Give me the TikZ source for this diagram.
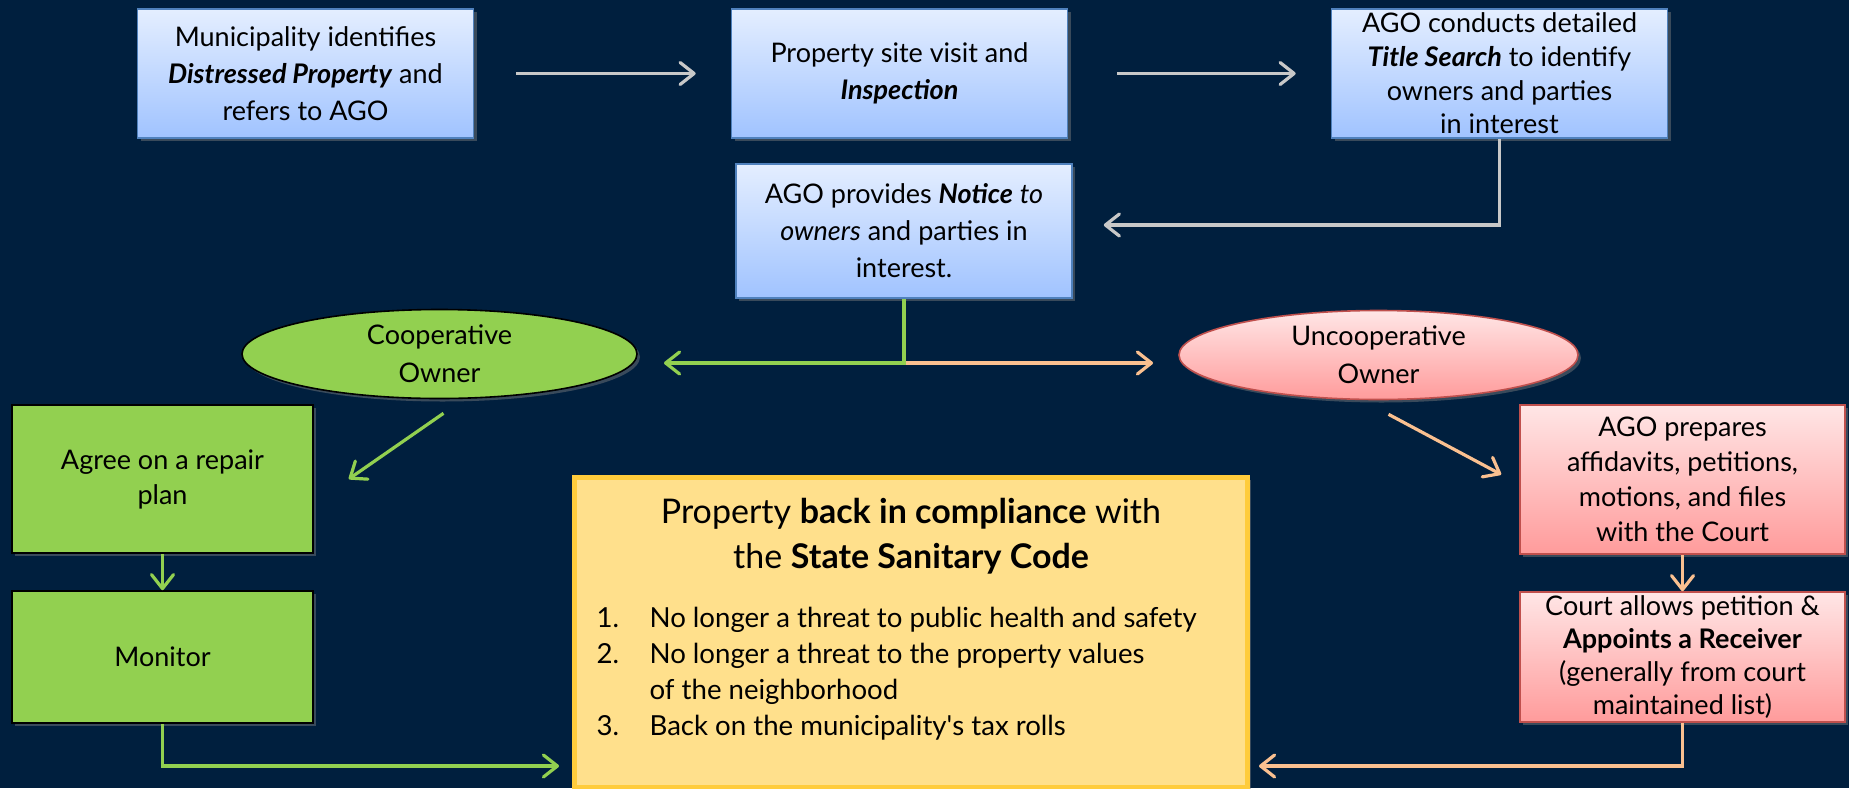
\documentclass[tikz,border=0pt]{standalone}
\usepackage{fontspec}
\setmainfont{Lato}
\usetikzlibrary{arrows.meta,shapes.geometric,shadows}
\definecolor{navybg}{RGB}{0,31,62}
\definecolor{arrowgray}{RGB}{200,200,200}
\definecolor{ownergreen}{RGB}{146,208,80}
\definecolor{ownerorange}{RGB}{250,192,144}
\definecolor{bluetop}{RGB}{228,238,255}
\definecolor{bluebot}{RGB}{160,195,255}
\definecolor{blueedge}{RGB}{79,129,189}
\definecolor{pinktop}{RGB}{255,230,230}
\definecolor{pinkbot}{RGB}{255,155,155}
\definecolor{pinkedge}{RGB}{192,80,77}
\definecolor{resultfill}{RGB}{255,224,140}
\definecolor{resultedge}{RGB}{255,204,60}

\begin{document}
\begin{tikzpicture}[x=0.5pt,y=-0.5pt,line width=1.6pt]
\tikzset{boxshadow/.style={drop shadow={opacity=0.45,shadow xshift=1.5pt,shadow yshift=-1.5pt}},
bluebox/.style={draw=blueedge,line width=0.8pt,top color=bluetop,bottom color=bluebot,
minimum width=168pt,minimum height=64.5pt,inner sep=0pt,align=center,
font=\fontsize{13.5}{18.5}\selectfont,boxshadow},
greenbox/.style={draw=black,line width=0.8pt,fill=ownergreen,minimum width=150.5pt,
inner sep=0pt,align=center,font=\fontsize{13.5}{17.5}\selectfont,boxshadow},
pinkbox/.style={draw=pinkedge,line width=0.8pt,top color=pinktop,bottom color=pinkbot,
minimum width=162.5pt,inner sep=0pt,align=center,font=\fontsize{13.5}{17.5}\selectfont,boxshadow},
owner/.style={ellipse,line width=0.8pt,minimum height=44.5pt,inner sep=0pt,align=center,
font=\fontsize{13.5}{19}\selectfont,boxshadow},
flow/.style={-{Straight Barb[length=7pt,width=11pt,round]}},
grayline/.style={draw=arrowgray,flow},
greenline/.style={draw=ownergreen,flow},
orangeline/.style={draw=ownerorange,flow},
}
\useasboundingbox (0,0) rectangle (1849,788);
\fill[navybg] (0,0) rectangle (1849,788);

\node[bluebox] (muni) at (305.5,73.5) {Municipality identifies\\
\textbf{\textit{Distressed Property}} and\\ refers to AGO};
\node[bluebox] (visit) at (899.5,73.5) {Property site visit and\\ \textbf{\textit{Inspection}}};
\node[bluebox,font=\fontsize{13.5}{16.8}\selectfont] (search) at (1499.5,73.5) {AGO conducts detailed\\
\textbf{\textit{Title Search}} to identify\\ owners and parties\\ in interest};
\node[bluebox,minimum height=67pt] (notice) at (904,231) {AGO provides \textbf{\textit{Notice}} \textit{to}\\
\textit{owners} and parties in\\ interest.};

\node[owner,draw=black,fill=ownergreen,minimum width=197.5pt] (coop) at (439.5,354) {Cooperative\\ Owner};
\node[owner,draw=pinkedge,top color=pinktop,bottom color=pinkbot,minimum width=199.5pt] (uncoop) at (1378.5,355) {Uncooperative\\ Owner};

\node[greenbox,minimum height=74pt] (agree) at (162.5,479) {Agree on a repair\\ plan};
\node[greenbox,minimum height=66pt] (monitor) at (162.5,657) {Monitor};
\node[pinkbox,minimum height=74.5pt] (prep) at (1682.5,479.5) {AGO prepares\\
affidavits, petitions,\\ motions, and files\\ with the Court};
\node[pinkbox,minimum height=65pt,font=\fontsize{13.5}{16.5}\selectfont] (court) at (1682.5,657) {Court allows petition \&\\
\textbf{Appoints a Receiver}\\ (generally from court\\ maintained list)};

\node[draw=resultedge,line width=2.5pt,fill=resultfill,minimum width=336.5pt,minimum height=155pt,boxshadow] (result) at (911,632) {};
\node[font=\fontsize{17}{22.5}\selectfont,align=center] (rtitle) at (911,536)
{Property \textbf{back in compliance} with\\ the \textbf{State Sanitary Code}};
\node[anchor=west,inner sep=0pt,font=\fontsize{13.8}{18}\selectfont] (rlist) at (595,674)
{\begin{tabular}{@{}p{26.5pt}@{}l@{}}
1. & No longer a threat to public health and safety\\
2. & No longer a threat to the property values\\
 & of the neighborhood\\
3. & Back on the municipality\textquotesingle s tax rolls
\end{tabular}};

\coordinate (split) at (904,363);
\coordinate (coopin) at (664,363);
\coordinate (uncoopin) at (1153,363);
\coordinate (resin) at (559,766);
\coordinate (resout) at (1259,766);

\draw[grayline] ([xshift=21pt]muni.east) -- ([xshift=-17.5pt]visit.west);
\draw[grayline] ([xshift=24.5pt]visit.east) -- ([xshift=-17.5pt]search.west);
\draw[grayline] (search.south) |- ([xshift=15.5pt,yshift=3pt]notice.east);
\draw[orangeline] (split) -- (uncoopin);
\draw[greenline] (notice.south) -- (split) -- (coopin);
\draw[greenline] ([xshift=2pt,yshift=-7pt]coop.south) -- ([xshift=17.5pt]agree.east);
\draw[orangeline] ([xshift=5pt,yshift=-7pt]uncoop.south) -- ([xshift=-9pt,yshift=2.5pt]prep.west);
\draw[greenline] (agree) -- (monitor);
\draw[orangeline] (prep) -- (court);
\draw[greenline] (monitor.south) |- (resin);
\draw[orangeline] (court.south) |- (resout);
\end{tikzpicture}
\end{document}
